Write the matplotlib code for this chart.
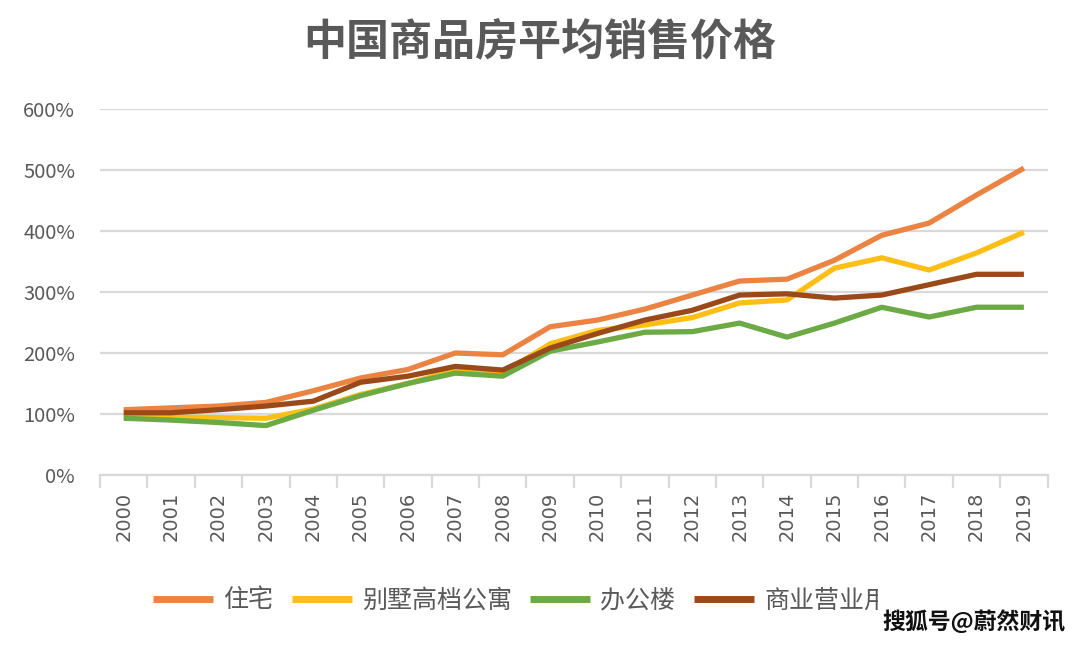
import matplotlib
matplotlib.use("Agg")
import matplotlib.pyplot as plt
from matplotlib.ticker import FixedLocator, FuncFormatter
from matplotlib.patches import Rectangle

plt.rcParams['font.family'] = ['Noto Sans CJK SC', 'DejaVu Sans']

years = [str(y) for y in range(2000, 2020)]
title = "中国商品房平均销售价格"
series_names = ["住宅", "别墅高档公寓", "办公楼", "商业营业用房"]

residential = [107, 110, 113, 119, 138, 159, 173, 200, 197, 243,
               254, 272, 295, 318, 321, 352, 393, 413, 459, 503]
villa = [97, 95, 94, 93, 108, 132, 150, 172, 167, 215,
         237, 246, 258, 282, 287, 339, 356, 336, 364, 398]
office = [93, 90, 86, 81, 106, 130, 150, 167, 162, 203,
          218, 234, 235, 249, 226, 249, 275, 259, 275, 275]
commercial = [102, 102, 107, 113, 121, 152, 162, 178, 172, 208,
              232, 254, 270, 295, 297, 290, 295, 312, 329, 329]

colors = ["#EB8443", "#FDBF16", "#6CAA45", "#9A4A1A"]
grey = "#595959"

fig = plt.figure(figsize=(10.8, 6.45), dpi=100)
ax = fig.add_axes([0.0926, 0.2636, 0.8774, 0.5674])

x = list(range(len(years)))
for vals, c, name in zip([residential, villa, office, commercial], colors, series_names):
    ax.plot(x, vals, color=c, lw=3.8, label=name, solid_capstyle='butt', solid_joinstyle='round')

ax.set_ylim(0, 600)
ax.set_xlim(-0.5, len(years) - 0.5)
ax.yaxis.set_major_locator(FixedLocator([0, 100, 200, 300, 400, 500, 600]))
ax.yaxis.set_major_formatter(FuncFormatter(lambda v, p: f"{int(v)}%"))
ax.grid(axis='y', color="#D9D9D9", lw=1.6)
ax.set_axisbelow(True)
for s in ['left', 'right', 'top']:
    ax.spines[s].set_visible(False)
ax.spines['bottom'].set_color("#D9D9D9")
ax.spines['bottom'].set_linewidth(1.6)
ax.tick_params(axis='y', length=0, pad=18, labelsize=14.5, labelcolor=grey)

ax.set_xticks(x)
ax.set_xticklabels(years, rotation=90, fontsize=14, color=grey, family=['DejaVu Sans'])
ax.set_xticks([i - 0.5 for i in range(len(years) + 1)], minor=True)
ax.tick_params(axis='x', which='major', length=0, pad=12)
ax.tick_params(axis='x', which='minor', length=9, color="#D9D9D9", width=1.6)

fig.text(0.5, 0.935, title, ha='center', va='center', fontsize=31,
         color=grey, fontweight='bold')

leg = fig.legend(loc='center', bbox_to_anchor=(0.494, 0.069), ncol=4, frameon=False,
                 fontsize=18, handlelength=2.4, handletextpad=0.4, columnspacing=0.75)
for t in leg.get_texts():
    t.set_color(grey)
for h in leg.get_lines():
    h.set_linewidth(5)

# the legend is cut off on the right in the original picture
fig.add_artist(Rectangle((878 / 1080, 0.05), 1 - 878 / 1080, 0.06,
                         transform=fig.transFigure, facecolor='white',
                         edgecolor='none', zorder=10))

fig.text(0.987, 0.035, "搜狐号@蔚然财讯", ha='right', va='center', fontsize=16.5,
         color="#111111", fontweight='bold', zorder=11)

fig.savefig("out.png", dpi=100)
